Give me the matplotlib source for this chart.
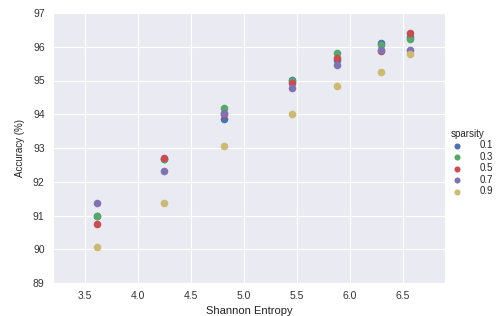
import matplotlib
matplotlib.use("Agg")
import matplotlib.pyplot as plt
import seaborn as sns

sns.set_style("darkgrid")
plt.rcParams['font.family'] = ['Liberation Sans', 'DejaVu Sans']

entropy = [3.62, 4.25, 4.81, 5.46, 5.88, 6.30, 6.57]
sparsity = ["0.1", "0.3", "0.5", "0.7", "0.9"]
acc = {
    "0.1": [91.00, 92.68, 93.86, 95.02, 95.60, 96.10, 96.30],
    "0.3": [91.00, 92.67, 94.19, 95.00, 95.81, 96.06, 96.24],
    "0.5": [90.76, 92.69, 94.00, 94.94, 95.66, 95.86, 96.40],
    "0.7": [91.38, 92.31, 94.04, 94.78, 95.45, 95.89, 95.89],
    "0.9": [90.07, 91.37, 93.07, 94.02, 94.85, 95.24, 95.78],
}
colors = ["#4C72B0", "#55A868", "#C44E52", "#8172B2", "#CCB974"]

fig = plt.figure(figsize=(4.98, 3.16), dpi=100)
ax = fig.add_axes([53/498, 1-283/316, (445-53)/498, (283-13)/316])
for s, c in zip(sparsity, colors):
    ax.scatter(entropy, acc[s], s=30, color=c, label=s, linewidths=0, zorder=3)

ax.set_xlim(3.2, 6.9)
ax.set_ylim(89, 97)
ax.set_xticks([3.5, 4.0, 4.5, 5.0, 5.5, 6.0, 6.5])
ax.set_yticks(range(89, 98))
ax.tick_params(labelsize=7.5, length=0, pad=6, colors="#333333")
ax.set_xlabel("Shannon Entropy", fontsize=8, color="#222222", labelpad=3)
ax.set_ylabel("Accuracy (%)", fontsize=7, color="#222222", labelpad=6)

leg = fig.legend(loc="upper left", bbox_to_anchor=(451/498, 1-129/316), frameon=False,
                 title="sparsity", fontsize=7, title_fontsize=7,
                 handletextpad=1.7, labelspacing=0.15, markerscale=0.8,
                 borderaxespad=0, borderpad=0, handlelength=1.2)
leg._legend_box.align = "left"

fig.savefig("out.png", dpi=100)
